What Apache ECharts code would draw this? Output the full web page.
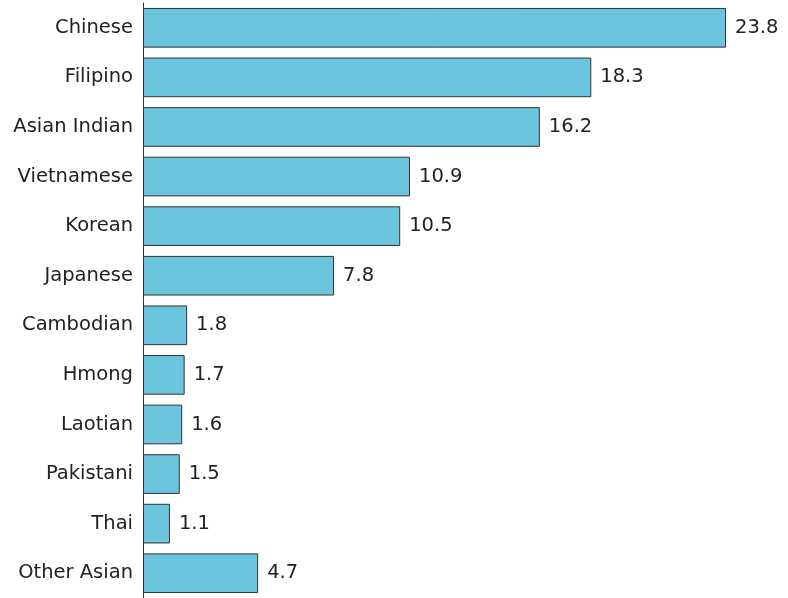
<!DOCTYPE html>
<html><head><meta charset="utf-8">
<script src="https://cdn.jsdelivr.net/npm/echarts@6/dist/echarts.min.js"></script>
<style>html,body{margin:0;padding:0;background:#fff}#c{width:788px;height:598px}</style>
</head><body><div id="c"></div>
<script>
const categories = ["Chinese","Filipino","Asian Indian","Vietnamese","Korean","Japanese","Cambodian","Hmong","Laotian","Pakistani","Thai","Other Asian"];
const values = [23.8,18.3,16.2,10.9,10.5,7.8,1.8,1.7,1.6,1.5,1.1,4.7];
const chart = echarts.init(document.getElementById('c'), null, {renderer:'canvas'});
chart.setOption({
  animation:false,
  grid:{left:143, right:0, top:3, bottom:-7, containLabel:false},
  xAxis:{type:'value', min:0, max:26.33, show:false},
  yAxis:{type:'category', data:categories, inverse:true,
    axisLine:{show:true, lineStyle:{color:'#333', width:1}},
    axisTick:{show:false},
    axisLabel:{color:'#222', fontFamily:'DejaVu Sans', fontSize:19.5, margin:10}},
  series:[{type:'bar', data:values, barCategoryGap:'20%',
    itemStyle:{color:'#6cc5de', borderColor:'#333', borderWidth:1},
    label:{show:true, position:'right', distance:9, color:'#222', fontFamily:'DejaVu Sans', fontSize:19.5}}]
});
</script></body></html>
